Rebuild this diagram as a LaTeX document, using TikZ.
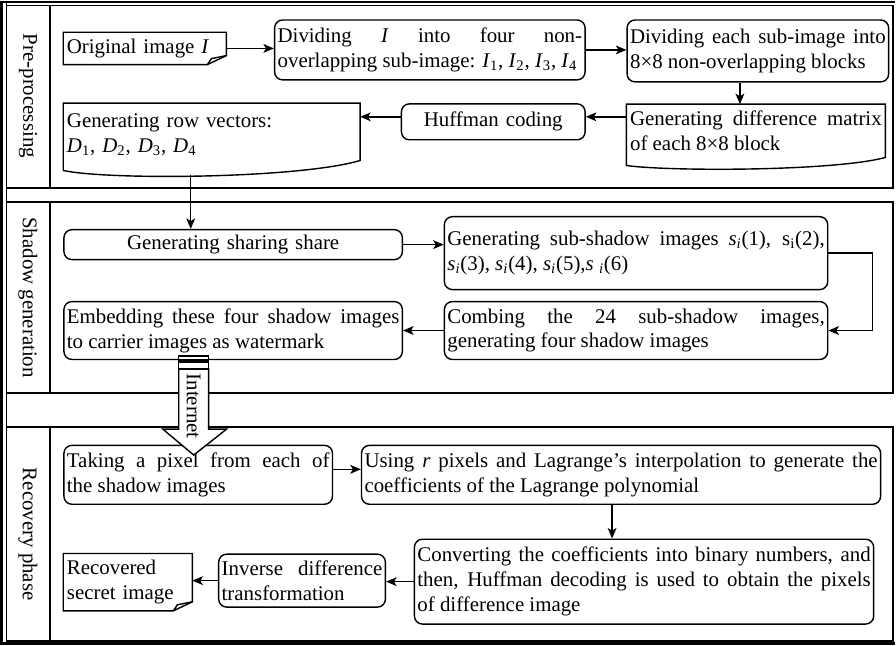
\documentclass[tikz,border=0pt]{standalone}
\usepackage{fontspec}
\setmainfont{Liberation Serif}
\usetikzlibrary{arrows.meta,calc}

\begin{document}
\begin{tikzpicture}[x=0.02cm,y=-0.02cm,
		font=\fontsize{11.9}{14.2}\selectfont,
		line width=0.8pt,
		box/.style={rectangle,rounded corners=0.16cm,draw,inner xsep=0.06cm,inner ysep=1pt,align=justify},
		plain/.style={rectangle,inner xsep=0.06cm,inner ysep=1pt,align=justify},
		arr/.style={-{Stealth[length=6pt,width=5pt,inset=1.5pt]}},
		lane/.style={line width=1.1pt},
		frame/.style={line width=1.5pt},
		lanename/.style={rotate=-90}]
				\fill[white] (0,0) rectangle (896,646);

				% frame and the three lanes
				\draw[frame] (896,2) -- (1.5,2) -- (1.5,644.5) -- (896,644.5);
				\draw[lane] (6.5,2) -- (6.5,644.5);
				\foreach \t/\b in {5.5/188, 202/394, 428/641.5}{
					\draw[lane] (6.5,\t) rectangle (894,\b);
					\draw[lane] (50,\t) -- (50,\b);
				}
				\node[lanename] (lane1) at (28,96) {Pre-processing};
				\node[lanename] (lane2) at (28,298) {Shadow generation};
				\node[lanename] (lane3) at (28,535) {Recovery phase};

				% pre-processing
				\node[plain,text width=3.12cm,minimum height=0.62cm,align=left] (orig) at (145,48.5) {Original image \textit{I}};
				\node[box,text width=6.10cm,minimum height=1.2cm] (div4) at (430.5,50)
					{Dividing \textit{I} into four non-\linebreak \mbox{overlapping sub-image: \textit{I}\textsubscript{1}, \textit{I}\textsubscript{2}, \textit{I}\textsubscript{3}, \textit{I}\textsubscript{4}}};
				\node[box,text width=5.12cm,minimum height=1.24cm] (blocks) at (759,51)
					{Dividing each sub-image into\linebreak 8×8 non-overlapping blocks};
				\node[plain,text width=5.04cm,minimum height=1.04cm] (diffm) at (757,131)
					{Generating difference matrix\linebreak of each 8×8 block};
				\node[box,text width=3.56cm,minimum height=0.72cm,align=center] (huff) at (494,122) {Huffman coding};
				\node[plain,text width=5.80cm,minimum height=1.24cm,align=left] (rowvec) at (212,135)
					{Generating row vectors:\\ \textit{D}\textsubscript{1}, \textit{D}\textsubscript{2}, \textit{D}\textsubscript{3}, \textit{D}\textsubscript{4}};

				% shadow generation
				\node[box,text width=6.66cm,minimum height=0.6cm,align=center] (share) at (233.5,245) {Generating sharing share};
				\node[box,text width=7.56cm,minimum height=1.46cm] (subsh) at (637,253.5)
					{Generating sub-shadow images \textit{s\textsubscript{i}}(1), s\textsubscript{i}(2),\linebreak \textit{s\textsubscript{i}}(3), \textit{s\textsubscript{i}}(4), \textit{s\textsubscript{i}}(5),\textit{s} \textsubscript{\textit{i}}(6)};
				\node[box,text width=7.56cm,minimum height=1.16cm] (combine) at (637,331)
					{Combing the 24 sub-shadow images,\linebreak generating four shadow images};
				\node[box,text width=6.66cm,minimum height=1.16cm] (embed) at (233.5,331)
					{Embedding these four shadow images\linebreak to carrier images as watermark};

				% recovery phase
				\node[box,text width=5.26cm,minimum height=1.18cm] (take) at (198.5,475.5)
					{Taking a pixel from each of\linebreak the shadow images};
				\node[box,text width=10.28cm,minimum height=1.18cm] (lagr) at (622,475.5)
					{Using \textit{r} pixels and Lagrange’s interpolation to generate the\linebreak coefficients of the Lagrange polynomial};
				\node[box,text width=9.08cm,minimum height=1.7cm] (conv) at (645,582.5)
					{Converting the coefficients into binary numbers, and\linebreak then, Huffman decoding is used to obtain the pixels\linebreak of difference image};
				\node[box,text width=3.22cm,minimum height=1.06cm] (inv) at (302.5,581.5)
					{Inverse difference\linebreak transformation};
				\node[plain,text width=2.44cm,minimum height=1.12cm,align=left] (recov) at (128,583)
					{Recovered\\ secret image};

				% outlines of the image nodes
				\foreach \n in {orig,recov}{
					\draw (\n.south west) -- (\n.north west) -- (\n.north east) -- ($(\n.south east)+(0,-9)$) -- ($(\n.south east)+(-19,0)$) -- cycle;
					\draw ($(\n.south east)+(-19,0)$) -- ++(4,-6) -- ++(15,-3);
				}
				\draw ($(rowvec.south east)+(0,-6)$) .. controls +(-60,18) and +(46,10) .. ($(rowvec.south west)+(0,4)$) -- (rowvec.north west) -- (rowvec.north east) -- cycle;
				\draw (diffm.south east) .. controls +(-52,14) and +(40,6) .. ($(diffm.south west)+(0,8)$) -- (diffm.north west) -- (diffm.north east) -- cycle;

				\coordinate (blkx) at (741,0);
				\coordinate (hufy) at (0,117);
				\coordinate (rv) at (191,175);
				\coordinate (pixy) at (0,470);
				\coordinate (lagx) at (613,0);
				\coordinate (netx) at (194,0);

				\draw[arr] (orig.east) -- (orig.east -| div4.west);
				\draw[arr] (div4.east) -- (div4.east -| blocks.west);
				\draw[arr] (blocks.south -| blkx) -- (diffm.north -| blkx);
				\draw[arr] (diffm.west |- hufy) -- (huff.east |- hufy);
				\draw[arr] (huff.west |- hufy) -- (rowvec.east |- hufy);
				\draw[arr] (rv) -- (rv |- share.north);
				\draw[arr] (share.east) -- (share.east -| subsh.west);
				\draw[arr] (subsh.east) -- ++(44,0) |- (combine.east);
				\draw[arr] (combine.west) -- (combine.west -| embed.east);
				\draw[arr] (take.east |- pixy) -- (lagr.west |- pixy);
				\draw[arr] (lagr.south -| lagx) -- (conv.north -| lagx);
				\draw[arr] (conv.west) -- (conv.west -| inv.east);
				\draw[arr] (inv.west) -- (inv.west -| recov.east);

				% Internet arrow
				\draw[fill=white] ($(embed.south -| netx)+(-15,-4)$) rectangle ++(30,4);
				\draw[fill=white] ($(embed.south -| netx)+(-15,2)$) rectangle ++(30,7);
				\draw[fill=white] ($(embed.south -| netx)+(-15,9)$) -- ++(30,0) -- ++(0,60) -- ++(18,0) -- ++(-33,26) -- ++(-31,-26) -- ++(16,0) -- cycle;
				\node[lanename] (net) at ($(embed.south -| netx)+(0,46)$) {Internet};
\end{tikzpicture}
\end{document}
